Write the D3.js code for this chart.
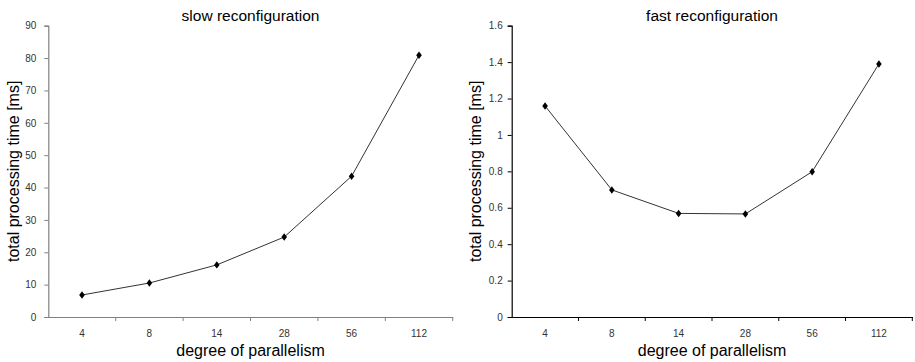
<!DOCTYPE html>
<html>
<head>
<meta charset="utf-8">
<script src="https://cdn.jsdelivr.net/npm/d3@7"></script>
<style>
body { margin: 0; background: #fff; }
text { font-family: Arial, "Liberation Sans", sans-serif; }
</style>
</head>
<body>
<div id="target"></div>
<script>
// data
var categories = ['4', '8', '14', '28', '56', '112'];
var slowValues = [6.8, 10.5, 16.1, 24.7, 43.5, 80.9];
var fastValues = [1.159, 0.698, 0.569, 0.566, 0.798, 1.39];
var slowTicks = [0, 10, 20, 30, 40, 50, 60, 70, 80, 90];
var fastTicks = [0, 0.2, 0.4, 0.6, 0.8, 1, 1.2, 1.4, 1.6];

var svg = d3.select('#target')
	.append('svg')
	.attr('width', 915)
	.attr('height', 362);

function drawChart(opts) {
	var x = d3.scaleBand()
		.domain(categories)
		.range([opts.left, opts.right]);
	var y = d3.scaleLinear()
		.domain([0, opts.max])
		.range([317, 25.7]);

	var g = svg.append('g');

	// title
	g.append('text')
		.attr('x', (opts.left + opts.right) / 2)
		.attr('y', 21)
		.attr('text-anchor', 'middle')
		.style('font-size', '15.5px')
		.text(opts.title);

	// y axis
	var yAxis = g.append('g')
		.attr('transform', 'translate(' + opts.left + ',0)')
		.call(d3.axisLeft(y).tickValues(opts.ticks).tickSize(4).tickPadding(opts.pad)
			.tickFormat(function(d) { return String(d); }));
	yAxis.select('.domain').attr('stroke', opts.axisColor).attr('stroke-width', 1.2);
	yAxis.selectAll('.tick line').attr('stroke', opts.axisColor);
	yAxis.selectAll('.tick text').style('font-size', '10px').attr('fill', '#333')
		.style('font-family', 'Arial, "Liberation Sans", sans-serif');

	// x axis, ticks sit on the band edges
	var xAxis = g.append('g')
		.attr('transform', 'translate(0,317)')
		.call(d3.axisBottom(x).tickSize(0).tickPadding(13));
	xAxis.select('.domain').attr('stroke', opts.axisColor).attr('stroke-width', 1.2);
	xAxis.selectAll('.tick text').style('font-size', '10px').attr('fill', '#333')
		.style('font-family', 'Arial, "Liberation Sans", sans-serif');
	var edges = categories.map(function(c) { return x(c); }).concat([opts.right]);
	g.selectAll('.edge')
		.data(edges.slice(1))
		.enter().append('line')
		.attr('x1', function(d) { return d; })
		.attr('x2', function(d) { return d; })
		.attr('y1', 317)
		.attr('y2', 321)
		.attr('stroke', opts.axisColor);

	// axis labels
	g.append('text')
		.attr('x', (opts.left + opts.right) / 2)
		.attr('y', 356)
		.attr('text-anchor', 'middle')
		.style('font-size', '16px')
		.text('degree of parallelism');

	g.append('text')
		.attr('transform', 'translate(' + opts.labelX + ',' + (317 + 25.7) / 2 + ') rotate(-90)')
		.attr('text-anchor', 'middle')
		.style('font-size', '16px')
		.text('total processing time [ms]');

	// line + markers
	var cx = function(d, i) { return x(categories[i]) + x.bandwidth() / 2; };
	var line = d3.line()
		.x(cx)
		.y(function(d) { return y(d); });

	g.append('path')
		.datum(opts.values)
		.attr('d', line)
		.attr('fill', 'none')
		.attr('stroke', '#333')
		.attr('stroke-width', 1);

	g.selectAll('.pt')
		.data(opts.values)
		.enter().append('path')
		.attr('transform', function(d, i) { return 'translate(' + cx(d, i) + ',' + y(d) + ') scale(1.3,1)'; })
		.attr('d', d3.symbol().type(d3.symbolDiamond).size(16))
		.attr('fill', '#000');
}

drawChart({
	title: 'slow reconfiguration',
	values: slowValues,
	ticks: slowTicks,
	max: 90,
	left: 48.3,
	right: 452.7,
	labelX: 19,
	pad: 8,
	axisColor: '#808080'
});

drawChart({
	title: 'fast reconfiguration',
	values: fastValues,
	ticks: fastTicks,
	max: 1.6,
	left: 511.7,
	right: 912.3,
	labelX: 481,
	pad: 5,
	axisColor: '#000'
});
</script>
</body>
</html>
